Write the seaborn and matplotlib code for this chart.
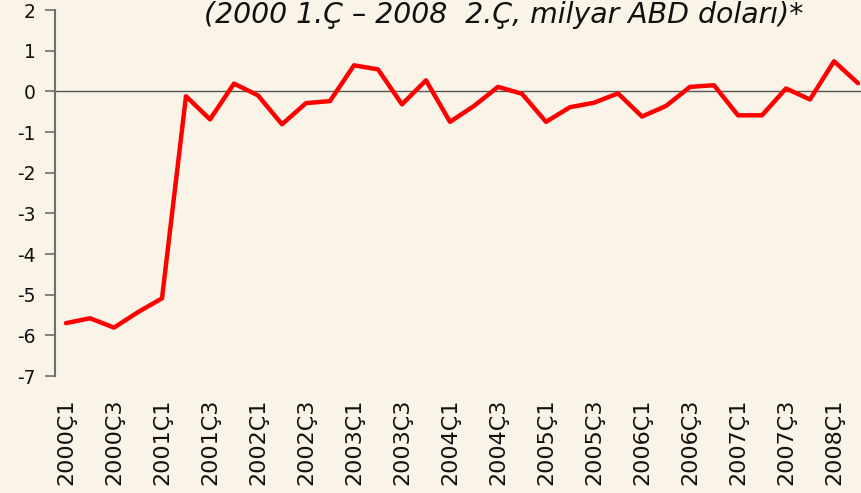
import pandas as pd
import matplotlib.pyplot as plt
import seaborn as sns

TITLE = "(2000 1.Ç – 2008  2.Ç, milyar ABD doları)*"

QUARTERS = [f"{y}Ç{q}" for y in range(2000, 2009) for q in range(1, 5)][:34]

VALUES = [-5.70, -5.58, -5.81, -5.43, -5.09, -0.12, -0.69, 0.19, -0.10, -0.81,
          -0.29, -0.24, 0.64, 0.54, -0.32, 0.27, -0.75, -0.36, 0.11, -0.06,
          -0.75, -0.39, -0.28, -0.05, -0.62, -0.36, 0.11, 0.15, -0.59, -0.59,
          0.07, -0.20, 0.74, 0.20]

BG = "#faf3e8"


def main():
    df = pd.DataFrame({"quarter": QUARTERS, "value": VALUES})
    df["pos"] = range(len(df))

    sns.set_style("white")
    plt.rcParams["font.family"] = ["DejaVu Sans"]
    plt.rcParams["axes.unicode_minus"] = False

    fig = plt.figure(figsize=(8.61, 4.93), dpi=100, facecolor=BG)
    ax = fig.add_axes([55 / 861, 1 - 376 / 493, 806 / 861, 366 / 493])
    ax.set_facecolor(BG)

    ax.axhline(0, color="#555555", lw=1.0, zorder=1)
    sns.lineplot(data=df, x="pos", y="value", color="#ff0000", lw=3.2, ax=ax, zorder=3)

    ax.set_ylim(-7, 2)
    ax.set_xlim(-0.458, 33.125)
    ax.set_yticks(range(-7, 3))
    ax.set_xticks(df["pos"][::2])
    ax.set_xticklabels(df["quarter"][::2], rotation=90, fontsize=16)
    ax.tick_params(axis="y", labelsize=13.5, length=7, width=1.2, color="#707070",
                   pad=7, direction="out", left=True, labelcolor="#111111")
    ax.tick_params(axis="x", length=0, pad=16, labelcolor="#111111")
    ax.set_xlabel("")
    ax.set_ylabel("")

    for side in ["top", "right", "bottom"]:
        ax.spines[side].set_visible(False)
    ax.spines["left"].set_color("#707070")
    ax.spines["left"].set_linewidth(1.5)

    fig.text(504 / 861, 1 - 23 / 493, TITLE, ha="center", va="baseline",
             fontsize=20.4, style="italic", color="#111111")

    fig.savefig("out.png", dpi=100, facecolor=BG)


if __name__ == '__main__':
    main()
